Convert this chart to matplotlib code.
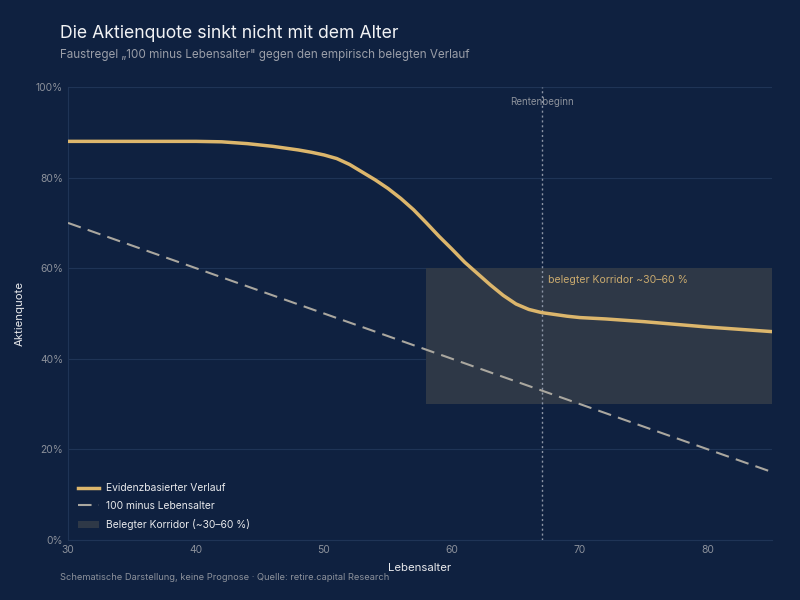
import matplotlib.pyplot as plt
from matplotlib.patches import Patch
from matplotlib.lines import Line2D
from matplotlib.ticker import FuncFormatter

plt.rcParams['font.family'] = ['Inter', 'DejaVu Sans']

# data
ages = [30, 35, 40, 42, 44, 46, 48, 49, 50, 51, 52, 53, 54, 55, 56, 57, 58, 59, 60,
        61, 62, 63, 64, 65, 66, 67, 68, 69, 70, 72, 75, 80, 85]
evidence = [88.0, 88.0, 88.0, 87.9, 87.5, 86.9, 86.1, 85.6, 85.0, 84.2, 82.9, 81.2, 79.5,
            77.6, 75.4, 72.9, 70.0, 67.0, 64.2, 61.3, 58.8, 56.3, 54.0, 52.1, 50.9,
            50.2, 49.8, 49.4, 49.1, 48.8, 48.2, 47.0, 46.0]
rule_ages = [30, 85]
rule_quote = [70, 15]
corridor_ages = [58, 85]
corridor_range = [30, 60]
retirement_age = 67

bg = '#0f2140'
grid_c = '#1f3456'
gold = '#dcb66c'
dash_c = '#aaa79f'
tick_c = '#8c919b'
light = '#e8e9ec'
band = '#2e3847'
dash_style = (0, (6.5, 3.5))

fig = plt.figure(figsize=(8, 6), dpi=100, facecolor=bg)
ax = fig.add_axes([0.085, 0.1, 0.88, 0.755], facecolor=bg)

ax.axvspan(corridor_ages[0], corridor_ages[1], ymin=corridor_range[0] / 100,
           ymax=corridor_range[1] / 100, color=band, lw=0, zorder=1)
ax.plot(rule_ages, rule_quote, color=dash_c, lw=1.5, ls=dash_style, zorder=3)
ax.plot(ages, evidence, color=gold, lw=2.5, solid_capstyle='round',
        solid_joinstyle='round', zorder=4)
ax.axvline(retirement_age, color='#8c95a6', lw=1, ls=(0, (1.5, 2)), zorder=2)

ax.text(retirement_age, 96.7, 'Rentenbeginn', color=tick_c, fontsize=7,
        ha='center', va='center', zorder=5)
ax.text(67.5, 57.4, 'belegter Korridor ~30–60 %', color='#c8a96e', fontsize=7.6,
        ha='left', va='center', zorder=5)

ax.set_xlim(30, 85)
ax.set_ylim(0, 100)
ax.set_xticks([30, 40, 50, 60, 70, 80])
ax.set_yticks([0, 20, 40, 60, 80, 100])
ax.yaxis.set_major_formatter(FuncFormatter(lambda v, p: f'{v:.0f}%'))
ax.tick_params(length=0, colors=tick_c, labelsize=7.4, pad=3.5)
ax.grid(axis='y', color=grid_c, lw=0.8)
ax.set_axisbelow(True)
for s in ['top', 'right']:
    ax.spines[s].set_visible(False)
for s in ['left', 'bottom']:
    ax.spines[s].set_color(grid_c)
    ax.spines[s].set_linewidth(0.8)

ax.set_xlabel('Lebensalter', color=light, fontsize=8.2, labelpad=6)
ax.set_ylabel('Aktienquote', color=light, fontsize=8.2, labelpad=8)

handles = [
    Line2D([0], [0], color=gold, lw=2.5),
    Line2D([0], [0], color=dash_c, lw=1.5, ls=dash_style),
    Patch(facecolor=band, lw=0),
]
labels = ['Evidenzbasierter Verlauf', '100 minus Lebensalter', 'Belegter Korridor (~30–60 %)']
leg = ax.legend(handles, labels, loc='lower left', frameon=False, fontsize=7.4,
                labelcolor=light, handlelength=2.0, handletextpad=0.7,
                borderaxespad=0.6, labelspacing=0.75)

fig.text(0.075, 0.945, 'Die Aktienquote sinkt nicht mit dem Alter', color='#f2f3f5',
         fontsize=12.7, va='center')
fig.text(0.075, 0.909, 'Faustregel „100 minus Lebensalter" gegen den empirisch belegten Verlauf',
         color='#9a9ea8', fontsize=8.4, va='center')
fig.text(0.075, 0.037, 'Schematische Darstellung, keine Prognose · Quelle: retire.capital Research',
         color='#8c919b', fontsize=6.7, va='center')

fig.savefig('out.png', dpi=100, facecolor=bg)
